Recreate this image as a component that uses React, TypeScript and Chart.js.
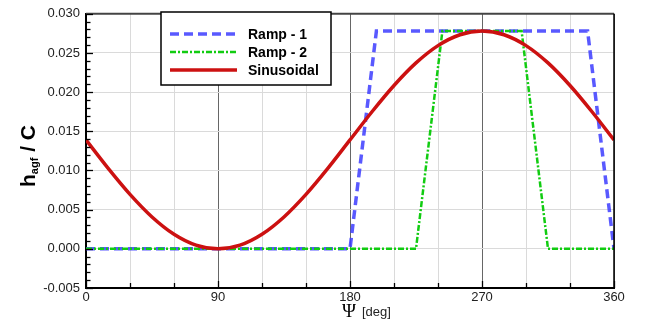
import React, { useEffect, useRef } from "react";
import { Chart, registerables } from "chart.js";
Chart.register(...registerables);

// ---- data ----
const seriesNames = ["Ramp - 1", "Ramp - 2", "Sinusoidal"];
const psiRamp1 = [0, 180, 198, 342, 360];
const hRamp1 = [0, 0, 0.0278, 0.0278, 0];
const psiRamp2 = [0, 225, 243, 297, 315, 360];
const hRamp2 = [0, 0, 0.0278, 0.0278, 0, 0];
const psiSin = [0, 15, 30, 45, 60, 75, 90, 105, 120, 135, 150, 165, 180, 195, 210, 225, 240, 255, 270, 285, 300, 315, 330, 345, 360];
const hSin = [0.0139, 0.0103, 0.00695, 0.00407, 0.00186, 0.00047, 0, 0.00047, 0.00186, 0.00407, 0.00695, 0.0103, 0.0139, 0.0175, 0.02085, 0.02373, 0.02594, 0.02733, 0.0278, 0.02733, 0.02594, 0.02373, 0.02085, 0.0175, 0.0139];
const xTickLabels = [0, 90, 180, 270, 360];
const yTickLabels = ["-0.005", "0.000", "0.005", "0.010", "0.015", "0.020", "0.025", "0.030"];

const SANS = '"Liberation Sans", Arial, sans-serif';

const decorPlugin = {
  id: "decor",
  afterDraw(chart: any) {
    const { ctx, chartArea: a, scales } = chart;
    const xs = scales.x;
    const ys = scales.y;
    ctx.save();
    // top & right borders
    ctx.strokeStyle = "#444";
    ctx.lineWidth = 2;
    ctx.beginPath();
    ctx.moveTo(a.left, a.top);
    ctx.lineTo(a.right, a.top);
    ctx.stroke();
    ctx.strokeStyle = "#000";
    ctx.lineWidth = 1.5;
    ctx.beginPath();
    ctx.moveTo(a.right, a.top);
    ctx.lineTo(a.right, a.bottom);
    ctx.stroke();

    // y minor / major ticks (inward)
    ctx.strokeStyle = "#000";
    ctx.lineWidth = 1.3;
    for (let i = -5; i <= 30; i++) {
      const y = Math.round(ys.getPixelForValue(i / 1000)) + 0.5;
      const len = i % 5 === 0 ? 7 : 4.5;
      ctx.beginPath();
      ctx.moveTo(a.left, y);
      ctx.lineTo(a.left + len, y);
      ctx.stroke();
    }
    // x ticks (inward)
    for (let v = 0; v <= 360; v += 30) {
      const x = Math.round(xs.getPixelForValue(v)) + 0.5;
      const len = v % 90 === 0 ? 7 : 5;
      ctx.beginPath();
      ctx.moveTo(x, a.bottom);
      ctx.lineTo(x, a.bottom - len);
      ctx.stroke();
    }

    // legend
    const lx = 161, ly = 12, lw = 170, lh = 73;
    ctx.fillStyle = "#fff";
    ctx.fillRect(lx, ly, lw, lh);
    ctx.strokeStyle = "#000";
    ctx.lineWidth = 1.5;
    ctx.strokeRect(lx, ly, lw, lh);
    const dsets = chart.data.datasets;
    const rows = [34, 52, 70];
    dsets.forEach((ds: any, i: number) => {
      const y = rows[i];
      ctx.strokeStyle = ds.borderColor;
      ctx.lineWidth = ds.borderWidth;
      ctx.setLineDash(ds.borderDash || []);
      ctx.beginPath();
      ctx.moveTo(170, y);
      ctx.lineTo(237, y);
      ctx.stroke();
      ctx.setLineDash([]);
      ctx.fillStyle = "#000";
      ctx.font = `bold 14px ${SANS}`;
      ctx.textBaseline = "middle";
      ctx.textAlign = "left";
      ctx.fillText(ds.label, 248, y + 1);
    });

    // y title: h_agf / C
    ctx.save();
    ctx.translate(35, 156);
    ctx.rotate(-Math.PI / 2);
    ctx.fillStyle = "#000";
    ctx.textBaseline = "alphabetic";
    ctx.textAlign = "left";
    const big = `bold 21px ${SANS}`;
    const small = `bold 11px ${SANS}`;
    ctx.font = big;
    const wH = ctx.measureText("h").width;
    const wC = ctx.measureText(" / C").width;
    ctx.font = small;
    const wS = ctx.measureText("agf").width;
    let x0 = -(wH + wS + wC) / 2;
    ctx.font = big;
    ctx.fillText("h", x0, 0);
    x0 += wH;
    ctx.font = small;
    ctx.fillText("agf", x0, 3);
    x0 += wS;
    ctx.font = big;
    ctx.fillText(" / C", x0, 0);
    ctx.restore();

    // x title: Ψ [deg]
    ctx.fillStyle = "#000";
    ctx.textBaseline = "alphabetic";
    ctx.textAlign = "left";
    ctx.font = `19px "Liberation Serif", "DejaVu Serif", serif`;
    ctx.fillText("Ψ", 342, 317);
    ctx.font = `13px ${SANS}`;
    ctx.fillStyle = "#222";
    ctx.fillText("[deg]", 362, 316);
    ctx.restore();
  },
};

export default function App() {
  const ref = useRef<HTMLCanvasElement | null>(null);
  useEffect(() => {
    if (!ref.current) return;
    const chart = new Chart(ref.current, {
      type: "line",
      data: {
        datasets: [
          {
            label: seriesNames[0],
            data: psiRamp1.map((x, i) => ({ x, y: hRamp1[i] })),
            borderColor: "rgba(60,60,255,0.85)",
            borderWidth: 3.5,
            borderDash: [9, 5],
            pointRadius: 0,
            tension: 0,
            order: 2,
          },
          {
            label: seriesNames[1],
            data: psiRamp2.map((x, i) => ({ x, y: hRamp2[i] })),
            borderColor: "#11cc11",
            borderWidth: 2.5,
            borderDash: [6, 2, 2, 2],
            pointRadius: 0,
            tension: 0,
            order: 1,
          },
          {
            label: seriesNames[2],
            data: psiSin.map((x, i) => ({ x, y: hSin[i] })),
            borderColor: "#cc1111",
            borderWidth: 3.5,
            pointRadius: 0,
            cubicInterpolationMode: "monotone",
            order: 0,
          },
        ] as any,
      },
      options: {
        animation: false,
        responsive: false,
        maintainAspectRatio: false,
        layout: { padding: { left: 0, right: 35, top: 12, bottom: 0 } },
        plugins: { legend: { display: false }, tooltip: { enabled: false } },
        scales: {
          x: {
            type: "linear",
            min: 0,
            max: 360,
            afterFit: (s: any) => { s.height = 32; },
            ticks: {
              stepSize: 30,
              autoSkip: false,
              maxRotation: 0,
              padding: 2,
              color: "#222",
              font: { family: SANS, size: 13 },
              callback: (v: any) => (xTickLabels.includes(Number(v)) ? String(v) : ""),
            },
            grid: {
              drawTicks: false,
              color: (c: any) => (c.tick && c.tick.value % 90 === 0 ? "#666" : "#dadada"),
              lineWidth: 1,
            },
            border: { color: "#000", width: 2 },
          },
          y: {
            type: "linear",
            min: -0.005,
            max: 0.03,
            afterFit: (s: any) => { s.width = 86; },
            ticks: {
              stepSize: 0.005,
              padding: 6,
              color: "#222",
              font: { family: SANS, size: 13 },
              callback: (v: any) => {
                let r = Math.round(Number(v) * 1000) / 1000;
                if (Object.is(r, -0)) r = 0;
                const s = r.toFixed(3);
                return yTickLabels.includes(s) ? s : "";
              },
            },
            grid: { drawTicks: false, color: "#dadada", lineWidth: 1 },
            border: { color: "#000", width: 2 },
          },
        },
      },
      plugins: [decorPlugin],
    });
    return () => chart.destroy();
  }, []);
  return (
    <div style={{ position: "fixed", left: 0, top: 0, width: 649, height: 320, background: "#fff" }}>
      <canvas ref={ref} width={649} height={320} style={{ width: 649, height: 320 }} />
    </div>
  );
}
